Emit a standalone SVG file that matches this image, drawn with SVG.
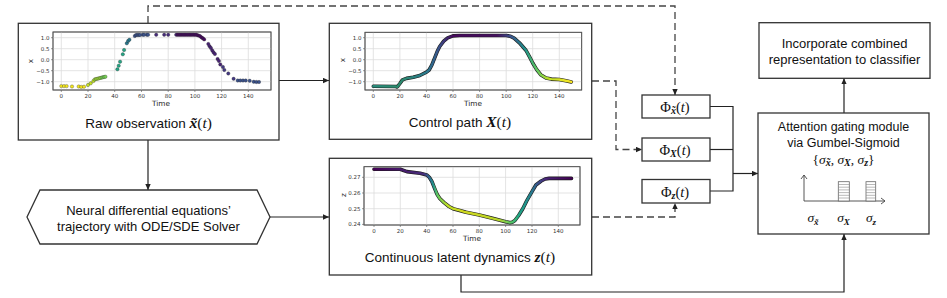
<svg xmlns="http://www.w3.org/2000/svg" width="947" height="298" viewBox="0 0 947 298">
<style>
.box{fill:#fff;stroke:#333;stroke-width:1.3}
.ln{fill:none;stroke:#222;stroke-width:1.2}
.dash{fill:none;stroke:#444;stroke-width:1.3;stroke-dasharray:7 4}
.cap{font-family:"Liberation Sans",Arial,sans-serif;font-size:13.5px;fill:#111;text-anchor:middle}
.lbl{font-family:"Liberation Sans",Arial,sans-serif;font-size:13px;fill:#111;text-anchor:middle}
.lbl2{font-family:"Liberation Sans",Arial,sans-serif;font-size:12.5px;fill:#111;text-anchor:middle}
.m{font-family:"Liberation Serif","DejaVu Serif",serif}
.mi{font-family:"Liberation Serif","DejaVu Serif",serif;font-style:italic}
.mb{font-family:"Liberation Serif","DejaVu Serif",serif;font-style:italic;font-weight:bold}
.big{font-size:15.5px}
.sub{font-size:10px}
.math{font-family:"Liberation Serif","DejaVu Serif",serif;font-size:14.5px;fill:#111;text-anchor:middle}
.tk{font-family:"DejaVu Sans",sans-serif;font-size:5.5px;fill:#333}
.tx{text-anchor:middle}
.ty{text-anchor:end}
.tm{font-family:"DejaVu Sans",sans-serif;font-size:7.3px;fill:#222;text-anchor:middle}
.grid{stroke:#dcdcdc;stroke-width:0.8;fill:none}
.frame{fill:#fff;stroke:#555;stroke-width:0.8}
.tick{stroke:#555;stroke-width:0.6}
.pt{stroke:#222;stroke-width:0.3}
.bar{fill:#fff;stroke:#666;stroke-width:0.8}
.stripe{stroke:#888;stroke-width:0.6}
</style>
<defs>
<marker id="ah" viewBox="0 0 10 10" refX="10" refY="5" markerWidth="6" markerHeight="6" markerUnits="userSpaceOnUse" orient="auto"><path d="M0,0.5 L10,5 L0,9.5 z" fill="#222"/></marker>
<linearGradient id="gctl" gradientUnits="userSpaceOnUse" x1="373.3" y1="0" x2="572.6" y2="0">
<stop offset="0" stop-color="#2a8a7a"/>
<stop offset="0.13" stop-color="#2b8a6c"/>
<stop offset="0.27" stop-color="#2a788e"/>
<stop offset="0.33" stop-color="#3b528b"/>
<stop offset="0.4" stop-color="#46085c"/>
<stop offset="0.62" stop-color="#45105f"/>
<stop offset="0.69" stop-color="#3b528b"/>
<stop offset="0.76" stop-color="#21918c"/>
<stop offset="0.82" stop-color="#5ec962"/>
<stop offset="0.88" stop-color="#bddf26"/>
<stop offset="1" stop-color="#fde725"/>
</linearGradient>
<linearGradient id="gz" gradientUnits="userSpaceOnUse" x1="374" y1="0" x2="571.5" y2="0">
<stop offset="0" stop-color="#440154"/>
<stop offset="0.25" stop-color="#472d7b"/>
<stop offset="0.28" stop-color="#31688e"/>
<stop offset="0.30" stop-color="#21918c"/>
<stop offset="0.32" stop-color="#5ec962"/>
<stop offset="0.37" stop-color="#bddf26"/>
<stop offset="0.45" stop-color="#d0d81e"/>
<stop offset="0.63" stop-color="#b8d52a"/>
<stop offset="0.69" stop-color="#5ec962"/>
<stop offset="0.73" stop-color="#22a884"/>
<stop offset="0.77" stop-color="#21918c"/>
<stop offset="0.80" stop-color="#2a788e"/>
<stop offset="0.83" stop-color="#3b528b"/>
<stop offset="0.87" stop-color="#482475"/>
<stop offset="1" stop-color="#440154"/>
</linearGradient>
</defs>

<g id="connectors">
<line class="ln" x1="279" y1="80.5" x2="329" y2="80.5" marker-end="url(#ah)"/>
<line class="ln" x1="148" y1="140" x2="148" y2="190" marker-end="url(#ah)"/>
<line class="ln" x1="270" y1="217" x2="329" y2="217" marker-end="url(#ah)"/>
<polyline class="dash" points="148,23 148,6 675,6 675,95" marker-end="url(#ah)"/>
<polyline class="dash" points="592,81 616,81 616,149.5 642,149.5" marker-end="url(#ah)"/>
<polyline class="dash" points="592,217 675,217 675,203" marker-end="url(#ah)"/>
<polyline class="ln" points="710,106.5 733,106.5 733,191 710,191"/>
<line class="ln" x1="710" y1="149.5" x2="733" y2="149.5"/>
<line class="ln" x1="733" y1="173.5" x2="758" y2="173.5" marker-end="url(#ah)"/>
<polyline class="ln" points="461,275 461,292 844,292 844,234" marker-end="url(#ah)"/>
<line class="ln" x1="844" y1="113" x2="844" y2="78.3" marker-end="url(#ah)"/>
</g>

<g id="raw">
<rect class="box" x="18.3" y="23.3" width="260.7" height="116.7"/>
<rect class="frame" x="53" y="32" width="218" height="58"/>
<g class="grid">
<path d="M61.3,32V90M88,32V90M114.7,32V90M141.5,32V90M168.2,32V90M194.9,32V90M221.6,32V90M248.3,32V90"/>
<path d="M53,37.7H271M53,48.7H271M53,59.7H271M53,70.7H271M53,81.7H271"/>
</g>
<rect x="53" y="32" width="218" height="58" fill="none" stroke="#555" stroke-width="0.8"/>
<path class="tick" d="M61.3,90v2M88,90v2M114.7,90v2M141.5,90v2M168.2,90v2M194.9,90v2M221.6,90v2M248.3,90v2M53,37.7h-2M53,48.7h-2M53,59.7h-2M53,70.7h-2M53,81.7h-2"/>
<g class="tk tx">
<text x="61.3" y="98">0</text><text x="88" y="98">20</text><text x="114.7" y="98">40</text><text x="141.5" y="98">60</text><text x="168.2" y="98">80</text><text x="194.9" y="98">100</text><text x="221.6" y="98">120</text><text x="248.3" y="98">140</text>
</g>
<g class="tk ty">
<text x="49.5" y="39.6">1.0</text><text x="49.5" y="50.6">0.5</text><text x="49.5" y="61.6">0.0</text><text x="49.5" y="72.6">−0.5</text><text x="49.5" y="83.6">−1.0</text>
</g>
<text class="tm" x="161" y="106">Time</text>
<text class="tm" x="0" y="0" transform="translate(32.5,61) rotate(-90)">x</text>
<g class="pt">
<g fill="#f2e51d">
<circle cx="61.3" cy="86.1" r="1.7"/><circle cx="64" cy="86.1" r="1.7"/><circle cx="66.6" cy="86.1" r="1.7"/><circle cx="72" cy="86.5" r="1.7"/><circle cx="78.7" cy="86.5" r="1.7"/><circle cx="81.3" cy="86.9" r="1.7"/><circle cx="84" cy="86.7" r="1.7"/>
</g>
<g fill="#c2df23">
<circle cx="88" cy="85" r="1.7"/><circle cx="90.7" cy="83.3" r="1.7"/><circle cx="93.4" cy="81" r="1.7"/>
</g>
<g fill="#9cd93b">
<circle cx="94.7" cy="79.5" r="1.7"/><circle cx="96" cy="79" r="1.7"/><circle cx="97.4" cy="78.8" r="1.7"/><circle cx="98.7" cy="78.4" r="1.7"/><circle cx="100" cy="78" r="1.7"/>
</g>
<g fill="#75d054">
<circle cx="101.4" cy="77.7" r="1.7"/><circle cx="102.7" cy="77.3" r="1.7"/><circle cx="104.1" cy="77" r="1.7"/><circle cx="105.4" cy="76.7" r="1.7"/>
</g>
<g fill="#25a585">
<circle cx="117.4" cy="69.3" r="1.7"/><circle cx="118.7" cy="65.7" r="1.7"/><circle cx="120.1" cy="61.7" r="1.7"/><circle cx="122.8" cy="54.3" r="1.7"/><circle cx="124.1" cy="50" r="1.7"/>
</g>
<g fill="#2a788e">
<circle cx="126.8" cy="43.3" r="1.7"/><circle cx="128.1" cy="41" r="1.7"/><circle cx="129.4" cy="39.7" r="1.7"/>
</g>
<g fill="#3b528b">
<circle cx="134.8" cy="36" r="1.7"/><circle cx="136.1" cy="35" r="1.7"/><circle cx="137.5" cy="35" r="1.7"/><circle cx="138.8" cy="35" r="1.7"/><circle cx="140.1" cy="35" r="1.7"/><circle cx="142.8" cy="34.8" r="1.7"/><circle cx="144.1" cy="34.8" r="1.7"/><circle cx="146.8" cy="34.8" r="1.7"/><circle cx="148.1" cy="34.8" r="1.7"/>
</g>
<g fill="#472c7a">
<circle cx="156.2" cy="34.8" r="1.7"/><circle cx="164.2" cy="34.8" r="1.7"/><circle cx="168.2" cy="34.8" r="1.7"/><circle cx="176.2" cy="34.8" r="1.7"/>
</g>
<g fill="#450b5e">
<circle cx="177.5" cy="34.8" r="1.7"/><circle cx="178.9" cy="34.8" r="1.7"/><circle cx="180.2" cy="34.8" r="1.7"/><circle cx="181.5" cy="34.8" r="1.7"/><circle cx="182.9" cy="34.8" r="1.7"/><circle cx="184.2" cy="34.8" r="1.7"/><circle cx="185.5" cy="34.8" r="1.7"/><circle cx="186.9" cy="34.8" r="1.7"/><circle cx="188.2" cy="34.8" r="1.7"/><circle cx="189.6" cy="34.8" r="1.7"/><circle cx="190.9" cy="34.8" r="1.7"/><circle cx="192.2" cy="34.8" r="1.7"/><circle cx="193.6" cy="34.8" r="1.7"/><circle cx="194.9" cy="34.8" r="1.7"/><circle cx="196.2" cy="34.8" r="1.7"/><circle cx="197.6" cy="35.2" r="1.7"/><circle cx="198.9" cy="35.6" r="1.7"/><circle cx="200.2" cy="36.3" r="1.7"/><circle cx="201.6" cy="37.5" r="1.7"/><circle cx="202.9" cy="38.3" r="1.7"/><circle cx="204.2" cy="39.4" r="1.7"/>
</g>
<g fill="#482475">
<circle cx="208.3" cy="44" r="1.7"/><circle cx="209.6" cy="46.3" r="1.7"/><circle cx="210.9" cy="48" r="1.7"/><circle cx="212.3" cy="50.5" r="1.7"/><circle cx="213.6" cy="52.5" r="1.7"/><circle cx="214.9" cy="54" r="1.7"/><circle cx="217.6" cy="59" r="1.7"/><circle cx="218.9" cy="61" r="1.7"/><circle cx="220.3" cy="64.5" r="1.7"/>
</g>
<g fill="#443983">
<circle cx="222.9" cy="67" r="1.7"/><circle cx="224.3" cy="70" r="1.7"/><circle cx="228.3" cy="73.5" r="1.7"/><circle cx="233.6" cy="78.8" r="1.7"/>
</g>
<g fill="#3b528b">
<circle cx="237.7" cy="80.5" r="1.7"/><circle cx="240.3" cy="80.5" r="1.7"/><circle cx="243" cy="80.5" r="1.7"/><circle cx="245.7" cy="80.5" r="1.7"/><circle cx="249.7" cy="80.8" r="1.7"/><circle cx="253.7" cy="81.8" r="1.7"/><circle cx="256.4" cy="82" r="1.7"/><circle cx="259" cy="82" r="1.7"/>
</g>
</g>
<text class="cap" x="148.5" y="127.5">Raw observation <tspan class="mb big">x&#x303;</tspan><tspan class="m big">(</tspan><tspan class="mi big">t</tspan><tspan class="m big">)</tspan></text>
</g>

<g id="control">
<rect class="box" x="329.3" y="23.3" width="262.4" height="116"/>
<rect class="frame" x="365" y="32.3" width="216.7" height="57.7"/>
<g class="grid">
<path d="M373.3,32.3V90M399.9,32.3V90M426.4,32.3V90M453,32.3V90M479.6,32.3V90M506.2,32.3V90M532.7,32.3V90M559.3,32.3V90"/>
<path d="M365,37.7H581.7M365,48.7H581.7M365,59.7H581.7M365,70.7H581.7M365,81.7H581.7"/>
</g>
<rect x="365" y="32.3" width="216.7" height="57.7" fill="none" stroke="#555" stroke-width="0.8"/>
<path class="tick" d="M373.3,90v2M399.9,90v2M426.4,90v2M453,90v2M479.6,90v2M506.2,90v2M532.7,90v2M559.3,90v2M365,37.7h-2M365,48.7h-2M365,59.7h-2M365,70.7h-2M365,81.7h-2"/>
<g class="tk tx">
<text x="373.3" y="98">0</text><text x="399.9" y="98">20</text><text x="426.4" y="98">40</text><text x="453" y="98">60</text><text x="479.6" y="98">80</text><text x="506.2" y="98">100</text><text x="532.7" y="98">120</text><text x="559.3" y="98">140</text>
</g>
<g class="tk ty">
<text x="361.5" y="39.6">1.0</text><text x="361.5" y="50.6">0.5</text><text x="361.5" y="61.6">0.0</text><text x="361.5" y="72.6">−0.5</text><text x="361.5" y="83.6">−1.0</text>
</g>
<text class="tm" x="473" y="106">Time</text>
<text class="tm" x="0" y="0" transform="translate(344.5,60) rotate(-90)">x</text>
<polyline fill="none" stroke="#1c1c1c" stroke-width="3.6" stroke-linejoin="round" stroke-linecap="round" points="373.3,86.3 395.9,86.5 397.2,87 399.9,83.5 402.5,79.9 406.5,78.4 413.2,77.3 419.8,75.5 426.4,72.2 429.1,70 431.8,65.2 434.4,58.6 437.1,51.8 439.7,46.5 443.7,41.2 447.7,37.9 453,35.9 459.7,35.5 506.2,35.5 510.1,36.2 514.1,38.1 519.4,42.8 526.1,50.5 530.1,57.9 532.7,63 536.7,69.6 540.7,74.7 546,78 551.3,79.1 559.3,79.5 565.9,80.8 571.3,81.9"/>
<polyline fill="none" stroke="url(#gctl)" stroke-width="2.4" stroke-linejoin="round" stroke-linecap="round" points="373.3,86.3 395.9,86.5 397.2,87 399.9,83.5 402.5,79.9 406.5,78.4 413.2,77.3 419.8,75.5 426.4,72.2 429.1,70 431.8,65.2 434.4,58.6 437.1,51.8 439.7,46.5 443.7,41.2 447.7,37.9 453,35.9 459.7,35.5 506.2,35.5 510.1,36.2 514.1,38.1 519.4,42.8 526.1,50.5 530.1,57.9 532.7,63 536.7,69.6 540.7,74.7 546,78 551.3,79.1 559.3,79.5 565.9,80.8 571.3,81.9"/>
<text class="cap" x="460" y="126.5">Control path <tspan class="mb big">X</tspan><tspan class="m big">(</tspan><tspan class="mi big">t</tspan><tspan class="m big">)</tspan></text>
</g>

<g id="latent">
<rect class="box" x="329.3" y="158.3" width="262.4" height="116.7"/>
<rect class="frame" x="364" y="166.7" width="216" height="58.3"/>
<g class="grid">
<path d="M374,166.7V225M400.3,166.7V225M426.7,166.7V225M453,166.7V225M479.3,166.7V225M505.6,166.7V225M532,166.7V225M558.3,166.7V225"/>
<path d="M364,177.3H580M364,193H580M364,208.7H580"/>
</g>
<rect x="364" y="166.7" width="216" height="58.3" fill="none" stroke="#555" stroke-width="0.8"/>
<path class="tick" d="M374,225v2M400.3,225v2M426.7,225v2M453,225v2M479.3,225v2M505.6,225v2M532,225v2M558.3,225v2M364,177.3h-2M364,193h-2M364,208.7h-2M364,224.4h-2"/>
<g class="tk tx">
<text x="374" y="233">0</text><text x="400.3" y="233">20</text><text x="426.7" y="233">40</text><text x="453" y="233">60</text><text x="479.3" y="233">80</text><text x="505.6" y="233">100</text><text x="532" y="233">120</text><text x="558.3" y="233">140</text>
</g>
<g class="tk ty">
<text x="360.5" y="179.2">0.27</text><text x="360.5" y="194.9">0.26</text><text x="360.5" y="210.6">0.25</text><text x="360.5" y="226.3">0.24</text>
</g>
<text class="tm" x="472" y="241">Time</text>
<text class="tm" x="0" y="0" transform="translate(345.5,195) rotate(-90)">z</text>
<polyline fill="none" stroke="#1c1c1c" stroke-width="3.6" stroke-linejoin="round" stroke-linecap="round" points="374,169.3 400.3,169.3 403,170.2 406.9,171.6 420.1,173.2 426.7,174.9 429.3,177.3 431.9,181.5 434.6,188.3 437.2,194.6 439.8,198.5 443.8,202.4 449,206.5 453,208.7 459.6,210.4 466.1,212.3 479.3,215 492.5,218.3 505.6,221.7 509.6,222.6 512.2,222.3 514.9,220.5 518.8,215.2 522.8,208.7 526.7,200.9 532,191.7 535.9,185 541.2,181 545.1,179 549.1,178.4 571.5,178.4"/>
<polyline fill="none" stroke="url(#gz)" stroke-width="2.4" stroke-linejoin="round" stroke-linecap="round" points="374,169.3 400.3,169.3 403,170.2 406.9,171.6 420.1,173.2 426.7,174.9 429.3,177.3 431.9,181.5 434.6,188.3 437.2,194.6 439.8,198.5 443.8,202.4 449,206.5 453,208.7 459.6,210.4 466.1,212.3 479.3,215 492.5,218.3 505.6,221.7 509.6,222.6 512.2,222.3 514.9,220.5 518.8,215.2 522.8,208.7 526.7,200.9 532,191.7 535.9,185 541.2,181 545.1,179 549.1,178.4 571.5,178.4"/>
<text class="cap" x="460" y="262">Continuous latent dynamics <tspan class="mb big">z</tspan><tspan class="m big">(</tspan><tspan class="mi big">t</tspan><tspan class="m big">)</tspan></text>
</g>

<g id="solver">
<polygon class="box" points="40,190 257,190 270,217 257,244 40,244 27,217"/>
<text class="lbl" x="148.5" y="214.5">Neural differential equations’</text>
<text class="lbl" x="148.5" y="230.5">trajectory with ODE/SDE Solver</text>
</g>

<g id="phi-xtilde">
<rect class="box" x="642" y="95" width="68" height="23"/>
<text class="math" x="675" y="111.5"><tspan class="m">Φ</tspan><tspan class="mb sub" dy="2.5">x&#x303;</tspan><tspan class="m" dy="-2.5">(</tspan><tspan class="mi">t</tspan><tspan class="m">)</tspan></text>
</g>
<g id="phi-X">
<rect class="box" x="642" y="138" width="68" height="23"/>
<text class="math" x="675" y="154.5"><tspan class="m">Φ</tspan><tspan class="mb sub" dy="2.5">X</tspan><tspan class="m" dy="-2.5">(</tspan><tspan class="mi">t</tspan><tspan class="m">)</tspan></text>
</g>
<g id="phi-z">
<rect class="box" x="642" y="179.5" width="68" height="23.5"/>
<text class="math" x="675" y="196.5"><tspan class="m">Φ</tspan><tspan class="mb sub" dy="2.5">z</tspan><tspan class="m" dy="-2.5">(</tspan><tspan class="mi">t</tspan><tspan class="m">)</tspan></text>
</g>

<g id="attention">
<rect class="box" x="758" y="113" width="171" height="121"/>
<text class="lbl2" x="843.5" y="130.5">Attention gating module</text>
<text class="lbl2" x="843.5" y="146.5">via Gumbel-Sigmoid</text>
<text class="math" x="843.5" y="163.5" style="font-size:13.5px"><tspan class="m">{</tspan><tspan class="mi">σ</tspan><tspan class="mb sub" dy="2.5">x&#x303;</tspan><tspan class="m" dy="-2.5">, </tspan><tspan class="mi">σ</tspan><tspan class="mb sub" dy="2.5">X</tspan><tspan class="m" dy="-2.5">, </tspan><tspan class="mi">σ</tspan><tspan class="mb sub" dy="2.5">z</tspan><tspan class="m" dy="-2.5">}</tspan></text>
<g fill="none" stroke="#444" stroke-width="0.9">
<path d="M804,201V175M801,179L804,175L807,179"/>
<path d="M804,201H885M881,198L885,201L881,204"/>
</g>
<rect class="bar" x="838.3" y="181.7" width="11" height="19.3"/>
<rect class="bar" x="866" y="181.7" width="9.7" height="19.3"/>
<path class="stripe" d="M838.3,184.5h11M838.3,187.2h11M838.3,189.9h11M838.3,192.6h11M838.3,195.3h11M838.3,198h11M866,184.5h9.7M866,187.2h9.7M866,189.9h9.7M866,192.6h9.7M866,195.3h9.7M866,198h9.7"/>
<text class="math" style="font-size:13.5px" x="813" y="222"><tspan class="mi">σ</tspan><tspan class="mb" style="font-size:9px" dy="2.5">x&#x303;</tspan></text>
<text class="math" style="font-size:13.5px" x="843.5" y="222"><tspan class="mi">σ</tspan><tspan class="mb" style="font-size:9px" dy="2.5">X</tspan></text>
<text class="math" style="font-size:13.5px" x="871" y="222"><tspan class="mi">σ</tspan><tspan class="mb" style="font-size:9px" dy="2.5">z</tspan></text>
</g>

<g id="classifier">
<rect class="box" x="759" y="22.7" width="171" height="55.6"/>
<text class="lbl" x="844.5" y="47.5">Incorporate combined</text>
<text class="lbl" x="844.5" y="63.5">representation to classifier</text>
</g>
</svg>
